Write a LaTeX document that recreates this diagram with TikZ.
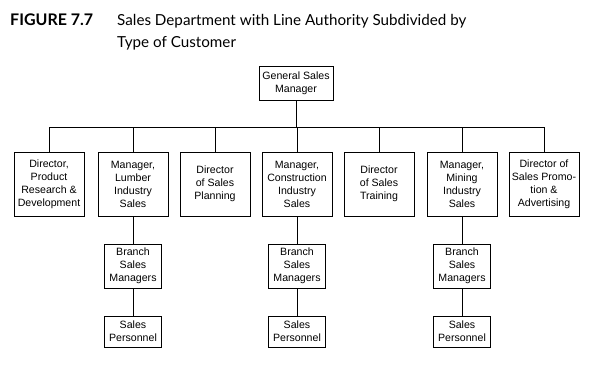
\documentclass[tikz,border=0pt]{standalone}
\usepackage{fontspec}
\setmainfont{Liberation Sans}
\newfontfamily\titlefont{Lato}
\begin{document}
\begin{tikzpicture}[x=1pt,y=-1pt,
  box/.style={draw,line width=0.75pt,align=center,inner sep=0pt,font=\fontsize{10.6}{13}\selectfont},
  lvltwo/.style={box,minimum width=70pt,minimum height=64pt},
  branch/.style={box,minimum width=57pt,minimum height=44pt},
  pers/.style={box,minimum width=57pt,minimum height=31pt},
  conn/.style={line width=0.75pt}]
\useasboundingbox (0,0) rectangle (596,367);
\node[anchor=base west,inner sep=0pt,font=\titlefont\bfseries\fontsize{16}{18}\selectfont] (fig) at (10,25) {FIGURE 7.7};
\node[anchor=base west,inner sep=0pt,font=\titlefont\fontsize{15.2}{18}\selectfont] (t1) at (117,25) {Sales Department with Line Authority Subdivided by};
\node[anchor=base west,inner sep=0pt,font=\titlefont\fontsize{15.2}{18}\selectfont] (t2) at (117,47) {Type of Customer};
\node[box,minimum width=74pt,minimum height=34pt] (gsm) at (296,83) {General Sales\\Manager};
\coordinate (bus) at (296,127);
\node[lvltwo] (b1) at (49,184) {Director,\\Product\\Research \&\\Development};
\node[lvltwo] (b2) at (133,184) {Manager,\\Lumber\\Industry\\Sales};
\node[lvltwo] (b3) at (215,184) {Director\\of Sales\\Planning};
\node[lvltwo] (b4) at (297,184) {Manager,\\Construction\\Industry\\Sales};
\node[lvltwo] (b5) at (379,184) {Director\\of Sales\\Training};
\node[lvltwo] (b6) at (462,184) {Manager,\\Mining\\Industry\\Sales};
\node[lvltwo] (b7) at (544,184) {Director of\\Sales Promo-\\tion \&\\Advertising};
\node[branch] (r2) at (133,266) {Branch\\Sales\\Managers};
\node[branch] (r4) at (297,266) {Branch\\Sales\\Managers};
\node[branch] (r6) at (462,266) {Branch\\Sales\\Managers};
\node[pers] (p2) at (133,331.5) {Sales\\Personnel};
\node[pers] (p4) at (297,331.5) {Sales\\Personnel};
\node[pers] (p6) at (462,331.5) {Sales\\Personnel};
\draw[conn] (gsm.south) -- (bus);
\foreach \b in {b1,b2,b3,b4,b5,b6,b7} {\draw[conn] (bus) -| (\b.north);}
\foreach \i in {2,4,6} {\draw[conn] (b\i.south) -- (r\i.north); \draw[conn] (r\i.south) -- (p\i.north);}
\end{tikzpicture}
\end{document}
